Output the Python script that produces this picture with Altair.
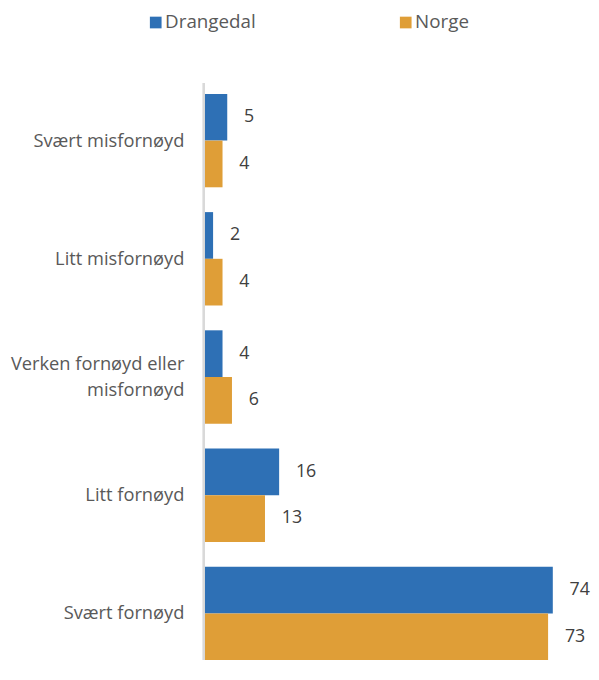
import altair as alt
import pandas as pd

categories = ["Svært misfornøyd", "Litt misfornøyd", "Verken fornøyd eller|misfornøyd", "Litt fornøyd", "Svært fornøyd"]
series = ["Drangedal", "Norge"]
drangedal = [5, 2, 4, 16, 74]
norge = [4, 4, 6, 13, 73]

rows = []
for c, d, n in zip(categories, drangedal, norge):
    rows.append({"kategori": c, "serie": "Drangedal", "verdi": d})
    rows.append({"kategori": c, "serie": "Norge", "verdi": n})
df = pd.DataFrame(rows)

colors = ["#2E70B5", "#DF9E37"]
font = "Open Sans"
H = 584
W = 382

y = alt.Y("kategori:N", sort=categories, title=None,
          scale=alt.Scale(paddingInner=0.21, paddingOuter=0, range=[11, H]),
          axis=alt.Axis(labelExpr="split(datum.label, '|')", labelFont=font, labelFontSize=18.5,
                        labelColor="#595959", labelPadding=20, ticks=False, domain=False,
                        labelLimit=220, labelLineHeight=26,
                        labelOffset={"condition": {"test": "indexof(datum.label, '|') >= 0", "value": -13},
                                     "value": 0}))
x = alt.X("verdi:Q", scale=alt.Scale(domain=[0, 80]), axis=None)
yoff = alt.YOffset("serie:N", sort=series, scale=alt.Scale(paddingInner=0, paddingOuter=0))

bars = alt.Chart(df).mark_bar().encode(
    y=y, x=x, yOffset=yoff,
    color=alt.Color("serie:N", sort=series, scale=alt.Scale(domain=series, range=colors),
                    legend=alt.Legend(title=None, orient="none", legendX=-58, legendY=-71,
                                      direction="horizontal", columns=2, columnPadding=142,
                                      symbolType="square", symbolSize=140, symbolStrokeWidth=0,
                                      labelFont=font, labelFontSize=19, labelColor="#595959",
                                      labelOffset=0)),
)

labels = alt.Chart(df).mark_text(align="left", baseline="middle", dx=17, font=font,
                                 fontSize=18, color="#404040").encode(
    y=y, x=x, yOffset=yoff, text=alt.Text("verdi:Q")
)

axis_line = alt.Chart(df).mark_rule(color="#D9D9D9", strokeWidth=1.5).encode(
    x=alt.value(0), y=alt.value(0), y2=alt.value(H)
)

chart = alt.layer(bars, labels, axis_line).properties(
    width=W, height=H,
    background="white",
    autosize=alt.AutoSizeParams(type="none"),
    padding={"left": 198, "top": 72, "right": 10, "bottom": 0},
).configure_view(strokeWidth=0, stroke=None)

chart.save("out.html", embed_options={"renderer": "svg", "actions": False})
